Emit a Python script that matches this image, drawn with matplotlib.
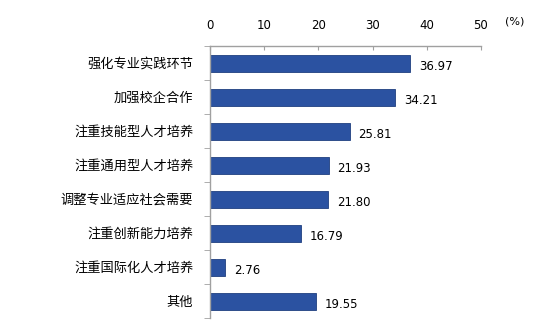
import numpy as np
import matplotlib.pyplot as plt

plt.rcParams['font.family'] = ['Noto Sans CJK SC', 'DejaVu Sans']

categories = ['强化专业实践环节', '加强校企合作', '注重技能型人才培养', '注重通用型人才培养',
              '调整专业适应社会需要', '注重创新能力培养', '注重国际化人才培养', '其他']
values = [36.97, 34.21, 25.81, 21.93, 21.80, 16.79, 2.76, 19.55]
xticks = [0, 10, 20, 30, 40, 50]

fig = plt.figure(figsize=(5.47, 3.28), dpi=100)
ax = fig.add_axes([210 / 547, 1 - 318 / 328, 271 / 547, 272 / 328])

y = np.arange(len(categories))
ax.barh(y, values, height=0.5, color='#2B52A1', edgecolor='#1F3F80', linewidth=0.6)

for yi, v in zip(y, values):
    ax.text(v + 1.6, yi + 0.1, '%.2f' % v, va='center', ha='left', fontsize=8.5,
            family='DejaVu Sans')

ax.set_xlim(0, 50)
ax.set_ylim(len(categories) - 0.5, -0.5)
ax.xaxis.tick_top()
ax.set_xticks(xticks)
ax.set_xticklabels([str(t) for t in xticks], fontsize=8.5, family='DejaVu Sans')
ax.tick_params(axis='x', direction='in', length=3, color='#A0A0A0', pad=10)

ax.set_yticks(y)
ax.set_yticklabels(categories, fontsize=9.5)
ax.tick_params(axis='y', which='major', length=0, pad=12)
ax.set_yticks(np.arange(-0.5, len(categories), 1), minor=True)
ax.tick_params(axis='y', which='minor', direction='out', length=4, color='#A0A0A0')

for s in ['right', 'bottom']:
    ax.spines[s].set_visible(False)
for s in ['top', 'left']:
    ax.spines[s].set_color('#A0A0A0')
    ax.spines[s].set_linewidth(1.0)

fig.text(505 / 547, 1 - 22 / 328, '(%)', fontsize=8, ha='left', va='center', family='DejaVu Sans')

fig.savefig('out.png', dpi=100)
